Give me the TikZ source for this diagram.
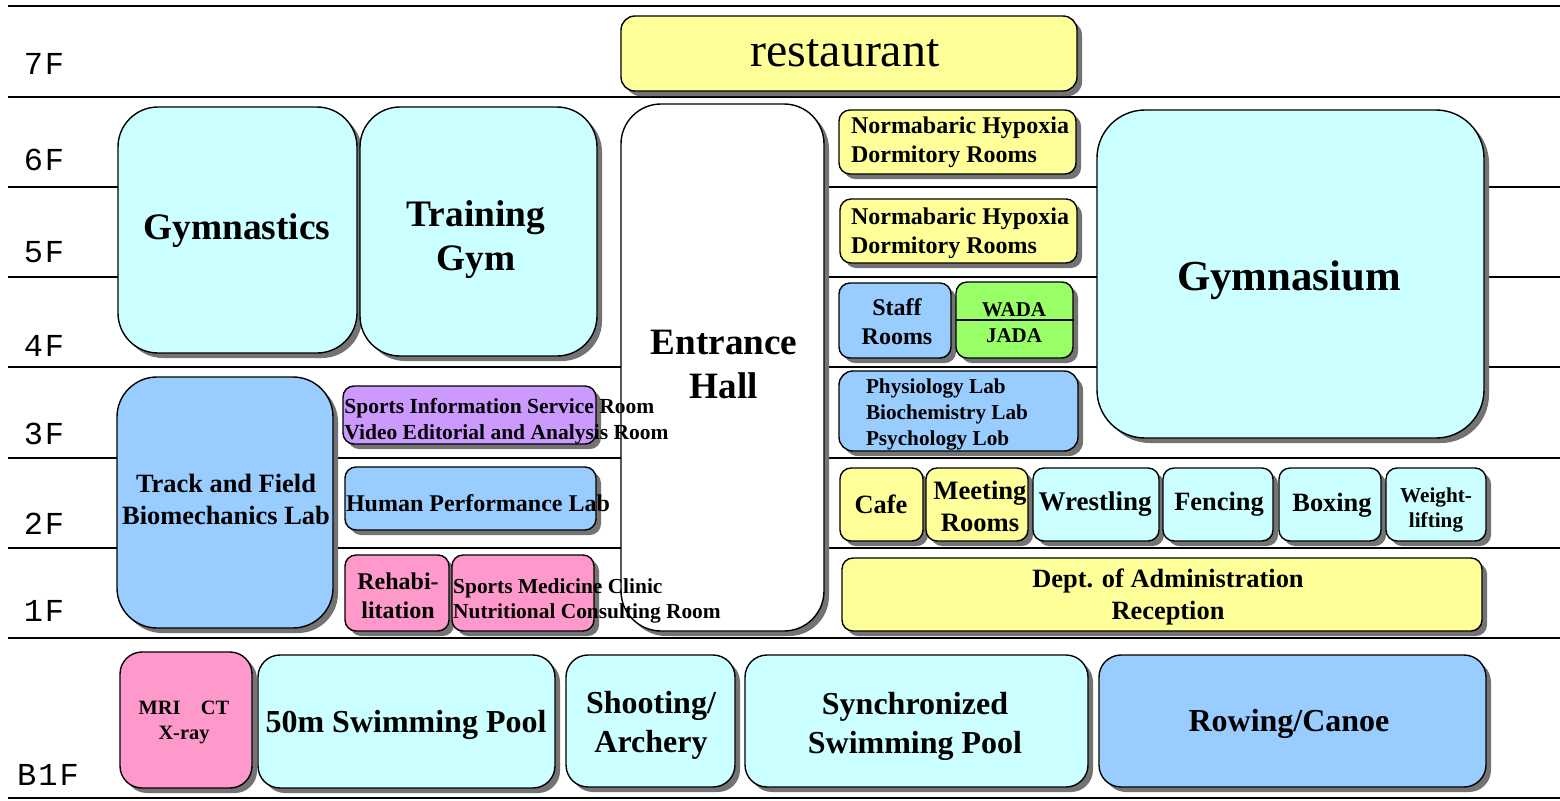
\documentclass[tikz,border=0pt]{standalone}
\usepackage{fontspec}
\setmainfont{Liberation Serif}
\newfontfamily\floorfont{Liberation Mono}
\usetikzlibrary{shadows}
\tikzset{
    room/.style={draw=black, line width=.7pt, fill=#1, rounded corners=7pt,
        drop shadow={shadow xshift=2.5pt, shadow yshift=-2.5pt, fill=black!55, opacity=1}},
    roomS/.style={room=#1, rounded corners=5.5pt},
    roomL/.style={room=#1, rounded corners=11pt},
    roomXL/.style={room=#1, rounded corners=20pt},
    txt/.style 2 args={inner sep=0pt, align=center, font=\bfseries\fontsize{#1}{#2}\selectfont},
    floorline/.style={line width=1pt},
    floortxt/.style={inner sep=0pt, font=\floorfont\fontsize{16}{16}\selectfont}
}
\definecolor{ryellow}{HTML}{FFFF99}
\definecolor{rcyan}{HTML}{CCFFFF}
\definecolor{rblue}{HTML}{99CCFF}
\definecolor{rpink}{HTML}{FF99CC}
\definecolor{rpurple}{HTML}{CC99FF}
\definecolor{rgreen}{HTML}{99FF66}
\begin{document}
\begin{tikzpicture}[x=.5pt, y=-.5pt]
        \useasboundingbox (0, 0) rectangle (1560, 800);

        \draw[line width=.7pt] (8, 6) -- (1560, 6);
        \draw[floorline] (8, 97) -- (1560, 97);
        \draw[floorline] (8, 187) -- (120, 187);
        \draw[floorline] (826, 187) -- (1100, 187);
        \draw[floorline] (1480, 187) -- (1560, 187);
        \draw[floorline] (8, 277) -- (120, 277);
        \draw[floorline] (826, 277) -- (1100, 277);
        \draw[floorline] (1480, 277) -- (1560, 277);
        \draw[floorline] (8, 367) -- (1560, 367);
        \draw[floorline] (8, 458) -- (1560, 458);
        \draw[floorline] (8, 548) -- (1560, 548);
        \draw[floorline] (8, 638) -- (1560, 638);
        \draw[line width=.7pt] (8, 798) -- (1560, 798);

        \node[floortxt] (f7) at (44, 64) {7\hspace{1pt}F};
        \node[floortxt] (f6) at (44, 160) {6\hspace{1pt}F};
        \node[floortxt] (f5) at (44, 252) {5\hspace{1pt}F};
        \node[floortxt] (f4) at (44, 346) {4\hspace{1pt}F};
        \node[floortxt] (f3) at (44, 434) {3\hspace{1pt}F};
        \node[floortxt] (f2) at (44, 524) {2\hspace{1pt}F};
        \node[floortxt] (f1) at (44, 611) {1\hspace{1pt}F};
        \node[floortxt] (fb1) at (48, 775) {B\hspace{1pt}1\hspace{1pt}F};

        \draw[room=ryellow] (621, 16) rectangle (1077, 91);
        \node[inner sep=0pt, font=\fontsize{24}{28}\selectfont] (restaurant) at (845, 53) {restaurant};

        \draw[roomXL=rcyan] (118, 107) rectangle (357, 353);
        \node[txt={18.7}{22}] (gymnastics) at (237, 231) {Gymnastics};
        \draw[roomXL=rcyan] (360, 107) rectangle (597, 356);
        \node[txt={18.7}{22}] (trainingym) at (476, 240) {Training\\Gym};
        \draw[roomXL=white] (621, 104) rectangle (824, 631);
        \node[txt={18.6}{22}] (entrance) at (724, 364) {Entrance\\Hall};

        \draw[roomS=ryellow] (839, 110) rectangle (1076, 174);
        \node[txt={12}{14.5}, align=left] (hypoxiaA) at (960, 142) {Normabaric Hypoxia\\Dormitory Rooms};
        \draw[roomS=ryellow] (840, 199) rectangle (1077, 263);
        \node[txt={12}{14.5}, align=left] (hypoxiaB) at (960, 233) {Normabaric Hypoxia\\Dormitory Rooms};
        \draw[room=rcyan, rounded corners=24pt] (1097, 110) rectangle (1484, 438);
        \node[txt={21.4}{25}] (gymnasium) at (1289, 280) {Gymnasium};

        \draw[roomS=rblue] (839, 283) rectangle (951, 358);
        \node[txt={12}{14.5}] (staff) at (897, 322) {Staff\\Rooms};
        \draw[roomS=rgreen] (956, 282) rectangle (1073, 358);
        \draw[line width=1pt] (956, 320) -- (1074, 320);
        \node[txt={10.5}{10.5}] (wada) at (1014, 310) {WADA};
        \node[txt={10.5}{10.5}] (jada) at (1014, 336) {JADA};

        \draw[room=rblue] (839, 371) rectangle (1078, 451);
        \node[txt={10.6}{13}, align=left] (labs) at (947, 414) {Physiology Lab\\Biochemistry Lab\\Psychology Lob};

        \draw[roomXL=rblue] (117, 377) rectangle (333, 628);
        \node[txt={13.2}{16}] (track) at (226, 499) {Track and Field\\Biomechanics Lab};

        \draw[roomS=rpurple] (343, 386) rectangle (596, 444);
        \node[txt={10.75}{13}, align=left] (sportsinfo) at (506.5, 421) {Sports Information Service Room\\Video Editorial and Analysis Room};
        \draw[roomS=rblue] (345, 467) rectangle (596, 530);
        \node[txt={12}{14.5}] (human) at (478, 503) {Human Performance Lab};
        \draw[roomS=rpink] (345, 555) rectangle (449, 631);
        \node[txt={12}{14.5}] (rehab) at (398, 596) {Rehabi-\\litation};
        \draw[roomS=rpink] (452, 555) rectangle (594, 631);
        \node[txt={10.7}{12.5}, align=left] (clinic) at (587, 601) {Sports Medicine Clinic\\Nutritional Consulting Room};

        \draw[roomS=ryellow] (840, 468) rectangle (923, 541);
        \node[txt={13.2}{15}] (cafe) at (881, 504) {Cafe};
        \draw[roomS=ryellow] (926, 468) rectangle (1028, 541);
        \node[txt={13.3}{16}] (meeting) at (980, 506) {Meeting\\Rooms};
        \draw[roomS=rcyan] (1033, 468) rectangle (1159, 541);
        \node[txt={13.5}{15}] (wrestling) at (1095, 504) {Wrestling};
        \draw[roomS=rcyan] (1163, 468) rectangle (1273, 541);
        \node[txt={13.2}{15}] (fencing) at (1219, 504) {Fencing};
        \draw[roomS=rcyan] (1279, 468) rectangle (1381, 541);
        \node[txt={13.2}{15}] (boxing) at (1332, 505) {Boxing};
        \draw[roomS=rcyan] (1386, 468) rectangle (1486, 541);
        \node[txt={10.6}{12.5}] (weight) at (1436, 510) {Weight-\\lifting};

        \draw[roomS=ryellow] (842, 558) rectangle (1482, 631);
        \node[txt={13.2}{16}] (admin) at (1168, 597) {Dept. of Administration\\Reception};

        \draw[roomL=rpink] (120, 652) rectangle (252, 788);
        \node[txt={10.2}{12.5}] (mri) at (184, 722) {MRI\hspace{1em}CT\\X-ray};
        \draw[roomL=rcyan] (258, 655) rectangle (555, 788);
        \node[txt={16}{18}] (pool) at (406, 725) {50m Swimming Pool};
        \draw[roomL=rcyan] (566, 655) rectangle (735, 787);
        \node[txt={16}{19.5}] (shooting) at (651, 725) {Shooting/\\Archery};
        \draw[roomL=rcyan] (745, 655) rectangle (1088, 787);
        \node[txt={16}{19.5}] (synchro) at (915, 726) {Synchronized\\Swimming Pool};
        \draw[roomL=rblue] (1099, 655) rectangle (1486, 787);
        \node[txt={16}{19.5}] (rowing) at (1289, 724) {Rowing/Canoe};
\end{tikzpicture}
\end{document}
